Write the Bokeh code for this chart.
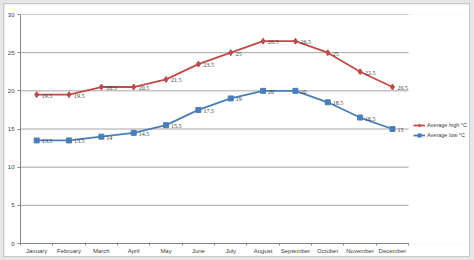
from bokeh.plotting import figure
from bokeh.models import ColumnDataSource, FixedTicker, Legend, LegendItem, LabelSet, Range1d, Spacer
from bokeh.layouts import column, row
from bokeh.embed import file_html
from bokeh.resources import INLINE

months = ["January", "February", "March", "April", "May", "June", "July",
          "August", "September", "October", "November", "December"]
avg_high = [19.5, 19.5, 20.5, 20.5, 21.5, 23.5, 25, 26.5, 26.5, 25, 22.5, 20.5]
avg_low = [13.5, 13.5, 14, 14.5, 15.5, 17.5, 19, 20, 20, 18.5, 16.5, 15]
y_ticks = [0, 5, 10, 15, 20, 25, 30]
series_names = ["Average high °C", "Average low °C"]

RED = "#BE4B48"
BLUE = "#4A7EBB"
FONT = "Liberation Sans"
FS = "6px"

n = len(months)
xs = [i + 0.5 for i in range(n)]
src = ColumnDataSource(dict(
    x=xs, high=avg_high, low=avg_low,
    high_txt=[f"{v:g}" for v in avg_high],
    low_txt=[f"{v:g}" for v in avg_low],
))

# plot area: 389 px for the 12 months, frame extended right to hold the legend
p = figure(width=465, height=252, output_backend="svg", toolbar_location=None,
           x_range=Range1d(0, n * 450 / 389), y_range=Range1d(0, 30),
           min_border_left=15, min_border_right=0, min_border_top=10, min_border_bottom=13,
           border_fill_color="white", background_fill_color="white",
           outline_line_color=None,
           styles={"box-shadow": "0 0 0 1px #C8C8C8"})

# horizontal gridlines limited to the category area
p.segment(x0=0, x1=n, y0=y_ticks[1:], y1=y_ticks[1:], line_color="#A6A6A6", line_width=1)

# axes
p.xaxis.ticker = FixedTicker(ticks=xs, minor_ticks=list(range(n + 1)))
p.xaxis.major_label_overrides = {x: m for x, m in zip(xs, months)}
p.xaxis.bounds = (0, n)
p.xaxis.major_tick_line_color = None
p.xaxis.major_tick_out = 0
p.xaxis.major_tick_in = 0
p.xaxis.minor_tick_out = 2
p.xaxis.minor_tick_in = 0
p.xaxis.minor_tick_line_color = "#868686"
p.xaxis.axis_line_color = "#868686"
p.xaxis.major_label_standoff = 2
p.yaxis.ticker = FixedTicker(ticks=y_ticks)
p.yaxis.major_tick_out = 3
p.yaxis.major_tick_in = 0
p.yaxis.minor_tick_line_color = None
p.yaxis.major_tick_line_color = "#868686"
p.yaxis.axis_line_color = "#868686"
p.yaxis.major_label_standoff = 3
for ax in (p.xaxis, p.yaxis):
    ax.major_label_text_font = FONT
    ax.major_label_text_font_size = FS
    ax.major_label_text_color = "#404040"
p.xgrid.grid_line_color = None
p.ygrid.grid_line_color = None

# series
hl = p.line("x", "high", source=src, line_color=RED, line_width=1.8)
hm = p.scatter("x", "high", source=src, marker="diamond", size=6,
               fill_color=RED, line_color=RED)
ll = p.line("x", "low", source=src, line_color=BLUE, line_width=1.8)
lm = p.scatter("x", "low", source=src, marker="square", size=5,
               fill_color=BLUE, line_color=BLUE)

for col, txt in (("high", "high_txt"), ("low", "low_txt")):
    p.add_layout(LabelSet(x="x", y=col, text=txt, source=src, x_offset=5, y_offset=-1,
                          text_baseline="middle", text_font=FONT,
                          text_font_size=FS, text_color="#404040"))

legend = Legend(items=[LegendItem(label=series_names[0], renderers=[hl, hm]),
                       LegendItem(label=series_names[1], renderers=[ll, lm])],
                location=(393, 104), orientation="vertical",
                background_fill_alpha=0, border_line_color=None,
                label_text_font=FONT, label_text_font_size="5.5px",
                label_text_color="#404040", glyph_width=12, glyph_height=8,
                label_standoff=2, spacing=2, padding=0, margin=0,
                label_height=8)
p.add_layout(legend, "center")

layout = column(Spacer(width=474, height=4),
                row(Spacer(width=4, height=252), p),
                width=474, height=260,
                styles={"background-color": "#E6E6E6"})

open("out.html", "w").write(file_html(layout, INLINE))
